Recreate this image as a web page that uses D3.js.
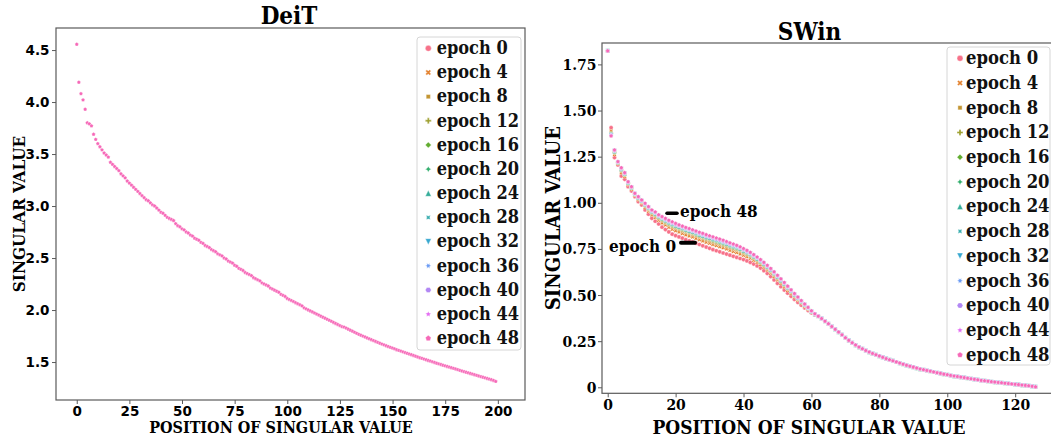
<!DOCTYPE html>
<html>
<head>
<meta charset="utf-8">
<script src="https://cdn.jsdelivr.net/npm/d3@7"></script>
<style>
  html, body { margin: 0; padding: 0; background: #fff; }
  svg { display: block; }
  .serif { font-family: "DejaVu Serif Condensed", "DejaVu Serif", serif; font-weight: bold; }
  .sans { font-family: "DejaVu Sans", sans-serif; font-weight: bold; }
</style>
</head>
<body>
<svg id="chart" width="1051" height="441"></svg>
<script>
// ---- epochs, colours and marker styles ----
const epochs = ["epoch 0", "epoch 4", "epoch 8", "epoch 12", "epoch 16", "epoch 20", "epoch 24",
                "epoch 28", "epoch 32", "epoch 36", "epoch 40", "epoch 44", "epoch 48"];
const epochColors = ["#f77189", "#e3822f", "#c39532", "#9fa131", "#62ad31", "#34af6e", "#35ad9a",
                     "#36acae", "#38a8d0", "#6b9bf4", "#b287f4", "#e46ef2", "#f669b8"];
const epochMarkers = ["circle", "X", "square", "plus", "diamond", "star4", "triUp",
                      "star4x", "triDown", "star6", "hexagon", "star5", "pentagon"];

// ---- DeiT: singular values by position (all epochs coincide) ----
const deitValues = [
  4.555, 4.19, 4.08, 4.02, 3.93, 3.80, 3.79, 3.77, 3.69, 3.64,
  3.60, 3.57, 3.54, 3.51, 3.49, 3.47, 3.42, 3.40, 3.38, 3.36,
  3.34, 3.31, 3.29, 3.27, 3.24, 3.22, 3.20, 3.18, 3.16, 3.14,
  3.12, 3.10, 3.08, 3.06, 3.05, 3.03, 3.01, 3.00, 2.98, 2.96,
  2.94, 2.93, 2.91, 2.89, 2.88, 2.87, 2.86, 2.83, 2.81, 2.80,
  2.78, 2.77, 2.75, 2.74, 2.72, 2.71, 2.69, 2.68, 2.67, 2.65,
  2.64, 2.62, 2.61, 2.60, 2.58, 2.57, 2.56, 2.54, 2.53, 2.52,
  2.50, 2.49, 2.47, 2.46, 2.45, 2.43, 2.42, 2.40, 2.39, 2.38,
  2.36, 2.35, 2.34, 2.33, 2.31, 2.30, 2.29, 2.28, 2.26, 2.25,
  2.24, 2.23, 2.21, 2.20, 2.19, 2.18, 2.17, 2.15, 2.14, 2.13,
  2.11, 2.10, 2.09, 2.08, 2.07, 2.06, 2.05, 2.04, 2.02, 2.01,
  2.00, 1.99, 1.98, 1.97, 1.96, 1.95, 1.94, 1.93, 1.92, 1.91,
  1.90, 1.89, 1.88, 1.87, 1.86, 1.85, 1.84, 1.835, 1.825, 1.815,
  1.805, 1.795, 1.785, 1.775, 1.765, 1.757, 1.748, 1.740, 1.731, 1.722,
  1.714, 1.705, 1.697, 1.688, 1.680, 1.672, 1.664, 1.656, 1.648, 1.640,
  1.633, 1.626, 1.618, 1.611, 1.604, 1.597, 1.590, 1.583, 1.576, 1.569,
  1.562, 1.555, 1.548, 1.541, 1.535, 1.528, 1.521, 1.514, 1.508, 1.501,
  1.495, 1.488, 1.482, 1.476, 1.469, 1.463, 1.457, 1.450, 1.444, 1.438,
  1.432, 1.426, 1.419, 1.413, 1.407, 1.401, 1.395, 1.389, 1.383, 1.377,
  1.371, 1.365, 1.359, 1.353, 1.347, 1.341, 1.335, 1.329, 1.322, 1.313
];

// ---- SWin: leading singular values (positions 0-61) per epoch ----
const swinEpoch0Head = [1.823, 1.407, 1.245, 1.205, 1.145, 1.127, 1.087, 1.064, 1.033, 1.006,
  0.988, 0.961, 0.938, 0.916, 0.900, 0.885, 0.868, 0.855, 0.842, 0.830,
  0.822, 0.815, 0.808, 0.800, 0.794, 0.788, 0.781, 0.774, 0.767, 0.760,
  0.753, 0.746, 0.740, 0.734, 0.728, 0.722, 0.716, 0.710, 0.704, 0.698,
  0.692, 0.685, 0.677, 0.668, 0.658, 0.646, 0.632, 0.617, 0.600, 0.582,
  0.563, 0.545, 0.527, 0.510, 0.493, 0.476, 0.460, 0.445, 0.430, 0.416, 0.403, 0.392];
const swinEpoch4Head = [1.823, 1.389, 1.261, 1.212, 1.163, 1.141, 1.098, 1.073, 1.040, 1.017,
  0.999, 0.975, 0.954, 0.934, 0.920, 0.905, 0.891, 0.879, 0.867, 0.856,
  0.848, 0.841, 0.834, 0.826, 0.820, 0.814, 0.807, 0.800, 0.793, 0.786,
  0.781, 0.774, 0.768, 0.762, 0.756, 0.750, 0.742, 0.736, 0.730, 0.723,
  0.716, 0.708, 0.699, 0.688, 0.677, 0.664, 0.650, 0.635, 0.618, 0.600,
  0.581, 0.562, 0.543, 0.525, 0.507, 0.489, 0.472, 0.455, 0.438, 0.423, 0.407, 0.394];
const swinEpoch8Head = [1.823, 1.380, 1.270, 1.216, 1.172, 1.149, 1.103, 1.078, 1.044, 1.022,
  1.004, 0.983, 0.963, 0.943, 0.930, 0.915, 0.902, 0.891, 0.880, 0.870,
  0.862, 0.855, 0.848, 0.840, 0.834, 0.828, 0.821, 0.814, 0.807, 0.800,
  0.794, 0.787, 0.781, 0.775, 0.769, 0.763, 0.756, 0.750, 0.744, 0.736,
  0.728, 0.719, 0.709, 0.699, 0.687, 0.674, 0.659, 0.643, 0.626, 0.608,
  0.589, 0.571, 0.552, 0.533, 0.514, 0.495, 0.477, 0.460, 0.443, 0.426, 0.410, 0.396];
const swinEpoch12Head = [1.823, 1.376, 1.274, 1.218, 1.177, 1.152, 1.106, 1.080, 1.046, 1.025,
  1.007, 0.986, 0.967, 0.948, 0.935, 0.920, 0.908, 0.897, 0.886, 0.876,
  0.868, 0.861, 0.854, 0.846, 0.840, 0.834, 0.827, 0.820, 0.813, 0.806,
  0.801, 0.794, 0.788, 0.782, 0.776, 0.770, 0.762, 0.756, 0.750, 0.742,
  0.734, 0.725, 0.715, 0.704, 0.692, 0.678, 0.664, 0.648, 0.631, 0.613,
  0.594, 0.575, 0.556, 0.537, 0.518, 0.498, 0.480, 0.463, 0.445, 0.428, 0.411, 0.396];
const swinEpoch16Head = [1.823, 1.373, 1.276, 1.219, 1.179, 1.154, 1.107, 1.081, 1.047, 1.026,
  1.008, 0.988, 0.969, 0.950, 0.938, 0.923, 0.911, 0.900, 0.889, 0.880,
  0.872, 0.865, 0.858, 0.850, 0.844, 0.838, 0.831, 0.824, 0.817, 0.810,
  0.805, 0.798, 0.792, 0.786, 0.780, 0.774, 0.766, 0.760, 0.754, 0.745,
  0.737, 0.728, 0.718, 0.706, 0.694, 0.681, 0.666, 0.650, 0.633, 0.615,
  0.596, 0.577, 0.558, 0.539, 0.519, 0.500, 0.482, 0.464, 0.446, 0.429, 0.411, 0.397];
const swinEpoch20Head = [1.823, 1.371, 1.278, 1.219, 1.181, 1.156, 1.109, 1.082, 1.047, 1.028,
  1.010, 0.990, 0.971, 0.952, 0.940, 0.925, 0.914, 0.903, 0.892, 0.883,
  0.875, 0.868, 0.861, 0.853, 0.847, 0.841, 0.834, 0.827, 0.820, 0.813,
  0.808, 0.801, 0.795, 0.789, 0.783, 0.777, 0.769, 0.763, 0.757, 0.748,
  0.740, 0.731, 0.720, 0.709, 0.696, 0.683, 0.668, 0.652, 0.635, 0.617,
  0.598, 0.579, 0.560, 0.540, 0.521, 0.502, 0.483, 0.465, 0.447, 0.430, 0.412, 0.397];
const swinEpoch24Head = [1.823, 1.370, 1.279, 1.220, 1.182, 1.157, 1.109, 1.083, 1.048, 1.028,
  1.010, 0.991, 0.972, 0.953, 0.941, 0.926, 0.915, 0.904, 0.894, 0.884,
  0.876, 0.869, 0.862, 0.854, 0.848, 0.842, 0.835, 0.828, 0.821, 0.814,
  0.810, 0.803, 0.797, 0.791, 0.785, 0.779, 0.770, 0.764, 0.758, 0.750,
  0.741, 0.732, 0.721, 0.710, 0.697, 0.684, 0.669, 0.653, 0.636, 0.618,
  0.599, 0.580, 0.561, 0.541, 0.522, 0.502, 0.484, 0.466, 0.447, 0.430, 0.412, 0.397];
const swinEpoch28Head = [1.823, 1.369, 1.280, 1.220, 1.183, 1.158, 1.110, 1.084, 1.048, 1.029,
  1.011, 0.992, 0.973, 0.954, 0.943, 0.928, 0.916, 0.906, 0.896, 0.886,
  0.878, 0.871, 0.864, 0.856, 0.850, 0.844, 0.837, 0.830, 0.823, 0.816,
  0.812, 0.805, 0.799, 0.793, 0.787, 0.781, 0.772, 0.766, 0.760, 0.752,
  0.743, 0.733, 0.723, 0.711, 0.699, 0.685, 0.670, 0.654, 0.637, 0.619,
  0.600, 0.582, 0.562, 0.542, 0.523, 0.503, 0.485, 0.466, 0.448, 0.430, 0.412, 0.397];
const swinEpoch32Head = [1.823, 1.368, 1.281, 1.221, 1.184, 1.158, 1.110, 1.084, 1.049, 1.029,
  1.011, 0.992, 0.974, 0.955, 0.944, 0.929, 0.918, 0.907, 0.897, 0.887,
  0.879, 0.872, 0.865, 0.857, 0.851, 0.845, 0.838, 0.831, 0.824, 0.817,
  0.813, 0.806, 0.800, 0.794, 0.788, 0.782, 0.773, 0.767, 0.761, 0.753,
  0.744, 0.735, 0.724, 0.712, 0.700, 0.686, 0.671, 0.655, 0.638, 0.620,
  0.601, 0.582, 0.563, 0.543, 0.523, 0.504, 0.485, 0.467, 0.448, 0.431, 0.413, 0.397];
const swinEpoch36Head = [1.823, 1.367, 1.282, 1.221, 1.186, 1.159, 1.111, 1.085, 1.049, 1.030,
  1.012, 0.993, 0.975, 0.957, 0.945, 0.930, 0.919, 0.909, 0.899, 0.889,
  0.881, 0.874, 0.867, 0.859, 0.853, 0.847, 0.840, 0.833, 0.826, 0.819,
  0.815, 0.808, 0.802, 0.796, 0.790, 0.784, 0.775, 0.769, 0.763, 0.755,
  0.746, 0.736, 0.726, 0.714, 0.701, 0.687, 0.673, 0.657, 0.640, 0.622,
  0.603, 0.584, 0.564, 0.544, 0.525, 0.505, 0.486, 0.468, 0.449, 0.431, 0.413, 0.397];
const swinEpoch40Head = [1.823, 1.366, 1.283, 1.222, 1.186, 1.160, 1.112, 1.085, 1.050, 1.031,
  1.013, 0.994, 0.976, 0.957, 0.946, 0.931, 0.920, 0.910, 0.900, 0.891,
  0.883, 0.876, 0.869, 0.861, 0.855, 0.849, 0.842, 0.835, 0.828, 0.821,
  0.816, 0.809, 0.803, 0.797, 0.791, 0.785, 0.777, 0.771, 0.765, 0.756,
  0.747, 0.737, 0.727, 0.715, 0.702, 0.688, 0.673, 0.657, 0.640, 0.622,
  0.603, 0.585, 0.565, 0.545, 0.525, 0.505, 0.487, 0.468, 0.449, 0.432, 0.413, 0.398];
const swinEpoch44Head = [1.823, 1.364, 1.284, 1.222, 1.188, 1.161, 1.113, 1.086, 1.050, 1.032,
  1.014, 0.995, 0.977, 0.959, 0.948, 0.933, 0.922, 0.912, 0.902, 0.893,
  0.885, 0.878, 0.871, 0.863, 0.857, 0.851, 0.844, 0.837, 0.830, 0.823,
  0.819, 0.812, 0.806, 0.800, 0.794, 0.788, 0.779, 0.773, 0.767, 0.758,
  0.749, 0.739, 0.728, 0.716, 0.704, 0.690, 0.675, 0.659, 0.642, 0.624,
  0.605, 0.586, 0.566, 0.546, 0.526, 0.506, 0.488, 0.469, 0.450, 0.432, 0.413, 0.398];
const swinEpoch48Head = [1.823, 1.362, 1.286, 1.223, 1.190, 1.163, 1.114, 1.087, 1.051, 1.033,
  1.015, 0.997, 0.979, 0.961, 0.950, 0.935, 0.925, 0.915, 0.905, 0.897,
  0.888, 0.880, 0.873, 0.866, 0.860, 0.853, 0.847, 0.840, 0.834, 0.827,
  0.821, 0.815, 0.809, 0.803, 0.797, 0.790, 0.783, 0.776, 0.769, 0.761,
  0.752, 0.742, 0.731, 0.719, 0.706, 0.692, 0.677, 0.661, 0.644, 0.626,
  0.607, 0.588, 0.568, 0.548, 0.528, 0.508, 0.489, 0.470, 0.451, 0.433, 0.414, 0.398];
// positions 62-126 are shared by every epoch
const swinTail = [
  0.385, 0.372, 0.358, 0.344, 0.329, 0.314, 0.299, 0.284, 0.268, 0.254,
  0.241, 0.229, 0.218, 0.208, 0.199, 0.191, 0.183, 0.176, 0.169, 0.162,
  0.155, 0.149, 0.143, 0.137, 0.131, 0.125, 0.119, 0.114, 0.109, 0.104,
  0.099, 0.095, 0.091, 0.087, 0.083, 0.079, 0.075, 0.071, 0.068, 0.064,
  0.061, 0.058, 0.055, 0.052, 0.049, 0.046, 0.043, 0.040, 0.037, 0.035,
  0.033, 0.030, 0.028, 0.026, 0.024, 0.022, 0.020, 0.018, 0.016, 0.014,
  0.012, 0.010, 0.008, 0.005, 0.002
];
const swinHeads = [swinEpoch0Head, swinEpoch4Head, swinEpoch8Head, swinEpoch12Head, swinEpoch16Head,
  swinEpoch20Head, swinEpoch24Head, swinEpoch28Head, swinEpoch32Head, swinEpoch36Head,
  swinEpoch40Head, swinEpoch44Head, swinEpoch48Head];

// ---- tick values / labels ----
const deitXTicks = [0, 25, 50, 75, 100, 125, 150, 175, 200];
const deitYTicks = [1.5, 2.0, 2.5, 3.0, 3.5, 4.0, 4.5];
const swinXTicks = [0, 20, 40, 60, 80, 100, 120];
const swinYTicks = [0, 0.25, 0.5, 0.75, 1.0, 1.25, 1.5, 1.75];
const swinYTickLabels = ["0", "0.25", "0.50", "0.75", "1.00", "1.25", "1.50", "1.75"];

// ---- marker shapes (seaborn-style) ----
function markerPath(kind, r) {
  const poly = (n, rot, star) => {
    const m = star ? n * 2 : n, pts = [];
    for (let k = 0; k < m; k++) {
      const a = (rot - 90 + k * 360 / m) * Math.PI / 180;
      const rr = star && (k % 2) ? r * 0.5 : r;
      pts.push([rr * Math.cos(a), rr * Math.sin(a)]);
    }
    return "M" + pts.map(p => p[0].toFixed(2) + "," + p[1].toFixed(2)).join("L") + "Z";
  };
  const cross = rot => {
    const w = r / 3;
    const base = [[-w,-r],[w,-r],[w,-w],[r,-w],[r,w],[w,w],[w,r],[-w,r],[-w,w],[-r,w],[-r,-w],[-w,-w]];
    const a = rot * Math.PI / 180, c = Math.cos(a), s = Math.sin(a);
    return "M" + base.map(([x, y]) => (x * c - y * s).toFixed(2) + "," + (x * s + y * c).toFixed(2)).join("L") + "Z";
  };
  switch (kind) {
    case "circle": return d3.symbol(d3.symbolCircle, Math.PI * r * r)();
    case "X": return cross(45);
    case "square": return poly(4, 45, false);
    case "plus": return cross(0);
    case "diamond": return poly(4, 0, false);
    case "star4": return poly(4, 0, true);
    case "triUp": return `M0,${-r}L${r},${r}L${-r},${r}Z`;
    case "star4x": return poly(4, 45, true);
    case "triDown": return `M0,${r}L${r},${-r}L${-r},${-r}Z`;
    case "star6": return poly(6, 30, true);
    case "hexagon": return poly(6, 30, false);
    case "star5": return poly(5, 0, true);
    default: return poly(5, 0, false);
  }
}

const svg = d3.select("#chart");
const frameColor = "#5a5a5a";

function styleAxis(g) {
  g.select(".domain").remove();
  g.selectAll(".tick line").attr("stroke", frameColor).attr("stroke-width", 1);
  g.selectAll(".tick text").attr("fill", "#000");
}

function drawLegend(g, x0, y0, w, h, mx, tx, rowY, rowStep, fontSize) {
  g.append("rect").attr("x", x0).attr("y", y0).attr("width", w).attr("height", h)
    .attr("rx", 3).attr("fill", "#fff").attr("fill-opacity", 0.85)
    .attr("stroke", "#d6d6d6").attr("stroke-width", 1);
  epochs.forEach((name, i) => {
    const cy = rowY + i * rowStep;
    g.append("path").attr("d", markerPath(epochMarkers[i], 3.0))
      .attr("transform", `translate(${mx},${cy})`)
      .attr("fill", epochColors[i]).attr("stroke", "#fff").attr("stroke-width", 0.4);
    g.append("text").attr("class", "serif").attr("x", tx).attr("y", cy + 5.8)
      .attr("font-size", fontSize).attr("fill", "#111").text(name);
  });
}

// ================= DeiT panel =================
{
  const L = 56, R = 525, T = 28, B = 400;
  const x = d3.scaleLinear().domain([-9.85, 212.9]).range([L, R]);
  const y = d3.scaleLinear().domain([1.135, 4.712]).range([B, T]);
  const g = svg.append("g");

  const ax = g.append("g").attr("transform", `translate(0,${B})`)
    .call(d3.axisBottom(x).tickValues(deitXTicks).tickFormat(d3.format("d")).tickSize(4).tickPadding(2.5));
  ax.attr("class", "sans").attr("font-size", 13.5);
  styleAxis(ax);
  const ay = g.append("g").attr("transform", `translate(${L},0)`)
    .call(d3.axisLeft(y).tickValues(deitYTicks).tickFormat(d3.format(".1f")).tickSize(4).tickPadding(2.5));
  ay.attr("class", "sans").attr("font-size", 13.5);
  styleAxis(ay);

  // only the last epoch is visible since every epoch lies on the same curve
  const last = epochs.length - 1;
  g.append("g").selectAll("path").data(deitValues).join("path")
    .attr("d", markerPath(epochMarkers[last], 2.0))
    .attr("transform", (d, i) => `translate(${x(i)},${y(d)})`)
    .attr("fill", epochColors[last]).attr("stroke", "#fff").attr("stroke-width", 0.35);

  g.append("rect").attr("x", L).attr("y", T).attr("width", R - L).attr("height", B - T)
    .attr("fill", "none").attr("stroke", frameColor).attr("stroke-width", 1.2);

  g.append("text").attr("class", "serif").attr("x", 289).attr("y", 24)
    .attr("text-anchor", "middle").attr("font-size", 24).text("DeiT");
  g.append("text").attr("class", "serif").attr("x", 281).attr("y", 433)
    .attr("text-anchor", "middle").attr("font-size", 16).text("POSITION OF SINGULAR VALUE");
  g.append("text").attr("class", "serif").attr("transform", `translate(25,${(T + B) / 2}) rotate(-90)`)
    .attr("text-anchor", "middle").attr("font-size", 17).text("SINGULAR VALUE");

  drawLegend(g, 417, 37, 104, 313, 428.3, 436.7, 48.3, 24.17, 18);
}

// ================= SWin panel =================
{
  const L = 602, R = 1060, T = 43, B = 393.3;
  const x = d3.scaleLinear().domain([-1.68, 133.2]).range([L, R]);
  const y = d3.scaleLinear().domain([-0.0325, 1.866]).range([B, T]);
  const g = svg.append("g");

  const ax = g.append("g").attr("transform", `translate(0,${B})`)
    .call(d3.axisBottom(x).tickValues(swinXTicks).tickFormat(d3.format("d")).tickSize(4).tickPadding(1.5));
  ax.attr("class", "serif").attr("font-size", 15.5);
  styleAxis(ax);
  const ay = g.append("g").attr("transform", `translate(${L},0)`)
    .call(d3.axisLeft(y).tickValues(swinYTicks).tickFormat((d, i) => swinYTickLabels[i]).tickSize(4).tickPadding(1.5));
  ay.attr("class", "serif").attr("font-size", 15.5);
  styleAxis(ay);

  const pts = g.append("g");
  swinHeads.forEach((head, e) => {
    const values = head.concat(swinTail);
    pts.append("g").selectAll("path").data(values).join("path")
      .attr("d", markerPath(epochMarkers[e], 2.1))
      .attr("transform", (d, i) => `translate(${x(i)},${y(d)})`)
      .attr("fill", epochColors[e]).attr("stroke", "#fff").attr("stroke-width", 0.35);
  });

  g.append("rect").attr("x", L).attr("y", T).attr("width", R - L).attr("height", B - T)
    .attr("fill", "none").attr("stroke", frameColor).attr("stroke-width", 1.2);

  // call-outs for the first and last epoch
  g.append("line").attr("x1", 667).attr("x2", 677).attr("y1", 213.3).attr("y2", 213.3)
    .attr("stroke", "#000").attr("stroke-width", 3.5).attr("stroke-linecap", "round");
  g.append("text").attr("class", "serif").attr("x", 680).attr("y", 216.5)
    .attr("font-size", 17).text("epoch 48");
  g.append("line").attr("x1", 681).attr("x2", 695).attr("y1", 242.7).attr("y2", 242.7)
    .attr("stroke", "#000").attr("stroke-width", 4).attr("stroke-linecap", "round");
  g.append("text").attr("class", "serif").attr("x", 609).attr("y", 252)
    .attr("font-size", 17).text("epoch 0");

  g.append("text").attr("class", "serif").attr("x", 809.5).attr("y", 40)
    .attr("text-anchor", "middle").attr("font-size", 24).text("SWin");
  g.append("text").attr("class", "serif").attr("x", 809).attr("y", 434)
    .attr("text-anchor", "middle").attr("font-size", 19).text("POSITION OF SINGULAR VALUE");
  g.append("text").attr("class", "serif").attr("transform", `translate(560,${(T + B) / 2}) rotate(-90)`)
    .attr("text-anchor", "middle").attr("font-size", 20).text("SINGULAR VALUE");

  drawLegend(g, 947, 47, 103, 318, 960, 966, 58.3, 24.72, 18.3);
}
</script>
</body>
</html>
